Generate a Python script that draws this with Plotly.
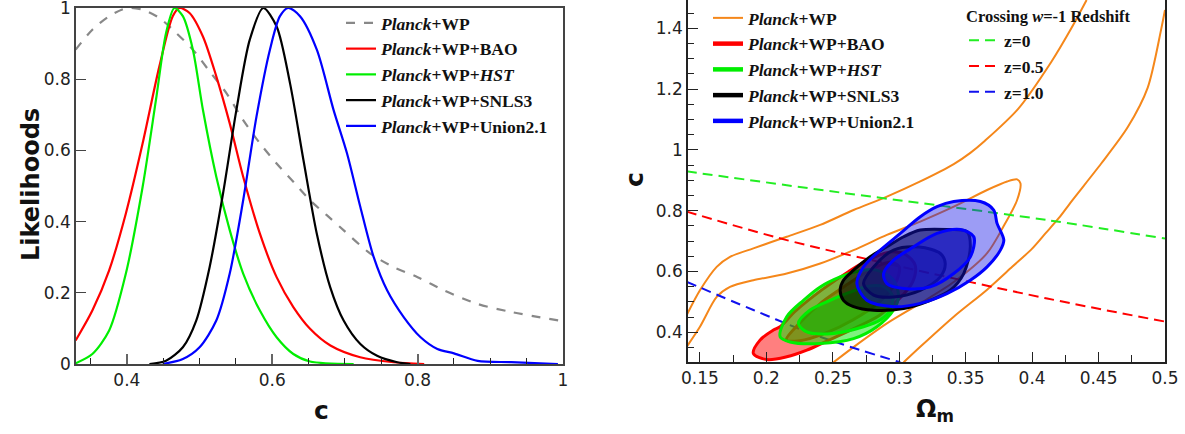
import plotly.graph_objects as go

# ---------------- Left panel: 1D likelihoods of c ----------------
c_planck = [0.3295, 0.3525, 0.3756, 0.40, 0.4217, 0.4447, 0.4677, 0.4908, 0.5138, 0.5369, 0.56, 0.583, 0.606, 0.629, 0.652, 0.675, 0.698, 0.735, 0.767, 0.80, 0.836, 0.882, 0.929, 1.0]
L_planck = [0.883, 0.939, 0.977, 1.0, 0.995, 0.972, 0.93, 0.883, 0.822, 0.761, 0.685, 0.62, 0.563, 0.512, 0.46, 0.418, 0.376, 0.31, 0.272, 0.244, 0.207, 0.169, 0.146, 0.12]

c_bao = [0.3295, 0.3525, 0.3756, 0.3986, 0.4217, 0.4447, 0.4631, 0.4724, 0.4862, 0.5046, 0.523, 0.5415, 0.56, 0.583, 0.606, 0.629, 0.652, 0.68, 0.721, 0.767, 0.809]
L_bao = [0.066, 0.15, 0.263, 0.423, 0.62, 0.836, 0.977, 1.0, 0.986, 0.92, 0.808, 0.676, 0.526, 0.366, 0.244, 0.16, 0.099, 0.052, 0.019, 0.005, 0.0]

c_hst = [0.3295, 0.3525, 0.3756, 0.3986, 0.4217, 0.44, 0.4539, 0.4654, 0.477, 0.4908, 0.5046, 0.523, 0.5415, 0.56, 0.583, 0.606, 0.629, 0.652, 0.712]
L_hst = [0.002, 0.028, 0.094, 0.254, 0.498, 0.742, 0.93, 1.0, 0.977, 0.883, 0.714, 0.526, 0.376, 0.254, 0.15, 0.075, 0.028, 0.007, 0.0]

c_snls = [0.431, 0.4539, 0.477, 0.4954, 0.5138, 0.5323, 0.5507, 0.5691, 0.5876, 0.606, 0.6244, 0.6429, 0.6613, 0.6797, 0.6982, 0.7212, 0.7442, 0.7719, 0.79]
L_snls = [0.0, 0.009, 0.047, 0.122, 0.272, 0.479, 0.714, 0.911, 1.0, 0.948, 0.789, 0.573, 0.366, 0.216, 0.122, 0.056, 0.023, 0.005, 0.0]

c_union = [0.4493, 0.477, 0.50, 0.523, 0.5415, 0.56, 0.5783, 0.5968, 0.6106, 0.6221, 0.6382, 0.6613, 0.6843, 0.7028, 0.7212, 0.7396, 0.758, 0.7811, 0.8041, 0.8272, 0.85, 0.8825, 0.9286, 0.993]
L_union = [0.0, 0.014, 0.047, 0.122, 0.254, 0.46, 0.695, 0.883, 0.977, 1.0, 0.977, 0.883, 0.714, 0.592, 0.441, 0.30, 0.207, 0.131, 0.075, 0.042, 0.03, 0.009, 0.005, 0.0]

left_ticks = [0, 0.2, 0.4, 0.6, 0.8, 1]
left_tick_text = ["0", "0.2", "0.4", "0.6", "0.8", "1"]

# ---------------- Right panel: Omega_m - c contours ----------------
planck_2s_up_om = [0.14, 0.15, 0.1626, 0.1726, 0.1902, 0.2153, 0.2405, 0.2656, 0.2907, 0.3158, 0.341, 0.3535, 0.3645, 0.3895, 0.4145, 0.4295, 0.441]
planck_2s_up_c = [0.456, 0.538, 0.615, 0.648, 0.676, 0.714, 0.753, 0.802, 0.846, 0.896, 0.953, 0.99, 1.03, 1.135, 1.29, 1.40, 1.493]
planck_2s_lo_om = [0.3033, 0.3158, 0.341, 0.3661, 0.385, 0.40, 0.41, 0.42, 0.4295, 0.452, 0.472, 0.487, 0.497, 0.5]
planck_2s_lo_c = [0.301, 0.352, 0.451, 0.54, 0.615, 0.675, 0.725, 0.775, 0.83, 0.955, 1.075, 1.205, 1.394, 1.46]
planck_1s_om = [0.14, 0.15, 0.1626, 0.1726, 0.1902, 0.2153, 0.2405, 0.2656, 0.2907, 0.3158, 0.341, 0.3661, 0.3812, 0.3887, 0.3912, 0.3887, 0.3787, 0.3661, 0.341, 0.3158, 0.2907, 0.2656, 0.2505]
planck_1s_c = [0.352, 0.418, 0.516, 0.549, 0.571, 0.593, 0.626, 0.67, 0.72, 0.764, 0.813, 0.868, 0.896, 0.903, 0.89, 0.835, 0.75, 0.66, 0.565, 0.495, 0.429, 0.351, 0.301]

z0_om = [0.14, 0.255, 0.4113, 0.5]
z0_c = [0.929, 0.86, 0.769, 0.708]
z05_om = [0.14, 0.2153, 0.2907, 0.4113, 0.5]
z05_c = [0.797, 0.703, 0.626, 0.511, 0.435]
z1_om = [0.14, 0.1902, 0.2405, 0.3008]
z1_c = [0.566, 0.473, 0.385, 0.301]

bao_2s_om = [0.1902, 0.2003, 0.2153, 0.2304, 0.245, 0.265, 0.285, 0.30, 0.31, 0.312, 0.305, 0.295, 0.28, 0.262, 0.242, 0.222, 0.2103, 0.2053, 0.1952, 0.1902]
bao_2s_c = [0.33, 0.31, 0.319, 0.341, 0.37, 0.41, 0.455, 0.51, 0.565, 0.62, 0.655, 0.665, 0.645, 0.60, 0.54, 0.47, 0.418, 0.407, 0.374, 0.33]
bao_1s_om = [0.215, 0.225, 0.245, 0.265, 0.285, 0.297, 0.30, 0.293, 0.28, 0.262, 0.242, 0.225, 0.215]
bao_1s_c = [0.375, 0.372, 0.398, 0.44, 0.50, 0.56, 0.615, 0.63, 0.61, 0.56, 0.50, 0.43, 0.375]

hst_2s_om = [0.2103, 0.2153, 0.2279, 0.2405, 0.2555, 0.268, 0.282, 0.295, 0.2995, 0.2957, 0.2832, 0.2656, 0.2405, 0.2178, 0.2103]
hst_2s_c = [0.385, 0.451, 0.505, 0.549, 0.582, 0.60, 0.605, 0.575, 0.52, 0.473, 0.418, 0.379, 0.363, 0.368, 0.385]
hst_1s_om = [0.2241, 0.2329, 0.248, 0.262, 0.275, 0.288, 0.295, 0.2935, 0.2857, 0.2731, 0.2505, 0.2304, 0.2241]
hst_1s_c = [0.429, 0.473, 0.505, 0.53, 0.55, 0.55, 0.52, 0.475, 0.44, 0.418, 0.396, 0.401, 0.429]

snls_2s_om = [0.2555, 0.258, 0.2656, 0.2781, 0.2907, 0.3033, 0.3158, 0.3359, 0.351, 0.3535, 0.3485, 0.3384, 0.3234, 0.3033, 0.2807, 0.2656, 0.258, 0.2555]
snls_2s_c = [0.538, 0.571, 0.604, 0.648, 0.681, 0.714, 0.736, 0.738, 0.731, 0.681, 0.593, 0.538, 0.505, 0.478, 0.472, 0.484, 0.505, 0.538]
snls_1s_om = [0.2731, 0.2807, 0.2957, 0.315, 0.3309, 0.3346, 0.3309, 0.3158, 0.2957, 0.2807, 0.2731]
snls_1s_c = [0.56, 0.615, 0.67, 0.68, 0.659, 0.626, 0.582, 0.538, 0.516, 0.522, 0.56]

union_2s_om = [0.2681, 0.2731, 0.2857, 0.3008, 0.3158, 0.3284, 0.341, 0.3611, 0.3711, 0.3736, 0.3787, 0.3761, 0.3661, 0.3535, 0.3359, 0.3158, 0.2957, 0.2756, 0.2681]
union_2s_c = [0.56, 0.615, 0.67, 0.725, 0.78, 0.813, 0.83, 0.83, 0.802, 0.758, 0.703, 0.67, 0.615, 0.571, 0.527, 0.495, 0.484, 0.505, 0.56]
union_1s_om = [0.2882, 0.2957, 0.3108, 0.3284, 0.346, 0.3561, 0.3535, 0.341, 0.3234, 0.3033, 0.2907, 0.2882]
union_1s_c = [0.593, 0.637, 0.681, 0.725, 0.738, 0.714, 0.648, 0.593, 0.549, 0.544, 0.56, 0.593]

names = ["<b><i>Planck</i>+WP</b>", "<b><i>Planck</i>+WP+BAO</b>", "<b><i>Planck</i>+WP+<i>HST</i></b>",
         "<b><i>Planck</i>+WP+SNLS3</b>", "<b><i>Planck</i>+WP+Union2.1</b>"]
z_names = ["<b>z=0</b>", "<b>z=0.5</b>", "<b>z=1.0</b>"]

RED, GREEN, BLACK, BLUE, ORANGE, GRAY = "#ff0000", "#00ee00", "#000000", "#0000ff", "#f5871a", "#888888"

fig = go.Figure()

# left panel
left_series = [(c_planck, L_planck, GRAY, "dash"), (c_bao, L_bao, RED, "solid"), (c_hst, L_hst, GREEN, "solid"),
               (c_snls, L_snls, BLACK, "solid"), (c_union, L_union, BLUE, "solid")]
for (xs, ys, col, dash), nm in zip(left_series, names):
    fig.add_trace(go.Scatter(x=xs, y=ys, mode="lines", name=nm,
                             line=dict(color=col, width=2.2, dash=dash, shape="spline", smoothing=0.8),
                             xaxis="x", yaxis="y", legend="legend"))

# right panel: orange Planck+WP contours
fig.add_trace(go.Scatter(x=planck_2s_up_om + [None] + planck_2s_lo_om, y=planck_2s_up_c + [None] + planck_2s_lo_c,
                         mode="lines", line=dict(color=ORANGE, width=2, shape="spline", smoothing=0.8),
                         showlegend=False, xaxis="x2", yaxis="y2", hoverinfo="skip"))
fig.add_trace(go.Scatter(x=planck_1s_om, y=planck_1s_c, mode="lines",
                         line=dict(color=ORANGE, width=2, shape="spline", smoothing=0.8),
                         showlegend=False, xaxis="x2", yaxis="y2", hoverinfo="skip"))

# crossing lines
for xs, ys, col, nm in [(z0_om, z0_c, "#22ee22", z_names[0]), (z05_om, z05_c, RED, z_names[1]), (z1_om, z1_c, "#1111ee", z_names[2])]:
    fig.add_trace(go.Scatter(x=xs, y=ys, mode="lines", name=nm,
                             line=dict(color=col, width=2, dash="10px,6px", shape="spline"),
                             xaxis="x2", yaxis="y2", legend="legend3"))

# filled contours
contours = [
    (bao_2s_om, bao_2s_c, RED, "rgba(255,0,0,0.5)"),
    (bao_1s_om, bao_1s_c, RED, "rgba(255,0,0,0.5)"),
    (hst_2s_om, hst_2s_c, GREEN, "rgba(0,230,0,0.5)"),
    (hst_1s_om, hst_1s_c, GREEN, "rgba(0,190,0,0.55)"),
    (snls_2s_om, snls_2s_c, BLACK, "rgba(0,0,0,0.6)"),
    (snls_1s_om, snls_1s_c, BLACK, "rgba(0,0,0,0.4)"),
    (union_2s_om, union_2s_c, BLUE, "rgba(20,20,230,0.42)"),
    (union_1s_om, union_1s_c, BLUE, "rgba(20,20,230,0.5)"),
]
for xs, ys, col, fc in contours:
    fig.add_trace(go.Scatter(x=xs, y=ys, mode="lines", fill="toself", fillcolor=fc,
                             line=dict(color=col, width=3, shape="spline", smoothing=0.9),
                             showlegend=False, xaxis="x2", yaxis="y2", hoverinfo="skip"))

# legend entries for right panel
for col, w, nm in zip([ORANGE, RED, GREEN, BLACK, BLUE], [2, 4.5, 4.5, 4.5, 4.5], names):
    fig.add_trace(go.Scatter(x=[None], y=[None], mode="lines", name=nm, line=dict(color=col, width=w),
                             xaxis="x2", yaxis="y2", legend="legend2"))

tickfont = dict(family="DejaVu Sans", size=17, color="#222")
legfont = dict(family="Liberation Serif", size=17.5, color="#111")

def ann(text, xp, yp, size, angle=0):
    return dict(text=text, x=xp / 1185, y=1 - yp / 434, xref="paper", yref="paper", showarrow=False,
                xanchor="center", yanchor="middle", textangle=angle,
                font=dict(family="DejaVu Sans", size=size, color="#111"))

fig.update_layout(
    template="none",
    width=1185, height=434, margin=dict(l=0, r=0, t=0, b=0, autoexpand=False),
    paper_bgcolor="white", plot_bgcolor="white",
    xaxis=dict(domain=[76 / 1185, 563 / 1185], range=[0.33, 1.0], tick0=0, dtick=0.2, ticks="inside", ticklen=10,
               tickcolor="#666", tickwidth=1.5, showline=True, mirror=True, linecolor="#444", linewidth=1.5,
               showgrid=False, zeroline=False, tickfont=tickfont, anchor="y", automargin=False,
               ticklabeloverflow="allow",
               minor=dict(dtick=0.05, tick0=0, ticks="inside", ticklen=6, tickcolor="#222", tickwidth=1.2, showgrid=False)),
    yaxis=dict(domain=[(434 - 364) / 434, (434 - 8) / 434], range=[0, 1], tickmode="array", tickvals=left_ticks,
               ticktext=left_tick_text, ticks="inside", ticklabeloverflow="allow",
               ticklen=10, tickcolor="#444", tickwidth=1.2, showline=True, mirror=True, linecolor="#444", linewidth=1.5,
               showgrid=False, zeroline=False, tickfont=tickfont, anchor="x", automargin=False),
    xaxis2=dict(domain=[688 / 1185, 1165 / 1185], range=[0.141, 0.5], tick0=0, dtick=0.05, ticks="inside",
                ticklen=10, tickcolor="#222", tickwidth=1.2, showline=True, mirror=False, linecolor="#222",
                linewidth=1.5, showgrid=False, zeroline=False, tickfont=tickfont, anchor="y2", automargin=False,
                ticklabeloverflow="allow",
                minor=dict(dtick=0.025, tick0=0, ticks="inside", ticklen=7, tickcolor="#222", tickwidth=1.2, showgrid=False)),
    yaxis2=dict(domain=[(434 - 362) / 434, 1.0], range=[0.302, 1.493], tick0=0, dtick=0.2, ticks="inside",
                ticklen=10, tickcolor="#222", tickwidth=1.2, showline=True, mirror=True, linecolor="#222",
                linewidth=1.5, showgrid=False, zeroline=False, tickfont=tickfont, anchor="x2", automargin=False,
                ticklabeloverflow="allow",
                minor=dict(dtick=0.05, tick0=0, ticks="inside", ticklen=6, tickcolor="#222", tickwidth=1.2, showgrid=False)),
    legend=dict(x=341 / 1185, y=1 - 5 / 434, xanchor="left", yanchor="top", bgcolor="rgba(0,0,0,0)",
                font=legfont, itemwidth=30, tracegroupgap=0, borderwidth=0),
    legend2=dict(x=708 / 1185, y=1.0, xanchor="left", yanchor="top", bgcolor="rgba(0,0,0,0)",
                 font=legfont, itemwidth=30, borderwidth=0),
    legend3=dict(x=964 / 1185, y=1 - 1 / 434, xanchor="left", yanchor="top", bgcolor="rgba(0,0,0,0)",
                 font=legfont, itemwidth=30, borderwidth=0,
                 title=dict(text="<b>Crossing <i>w</i>=-1 Redshift</b>", font=dict(family="Liberation Serif", size=16.5, color="#111"))),
    annotations=[
        ann("<b>c</b>", 321, 410, 25),
        ann("<b>Likelihoods</b>", 31, 185, 24, -90),
        ann("<b>Ω<sub>m</sub></b>", 935, 410, 24),
        ann("<b>c</b>", 634, 180, 25, -90),
    ],
)

fig.write_html("out.html")
